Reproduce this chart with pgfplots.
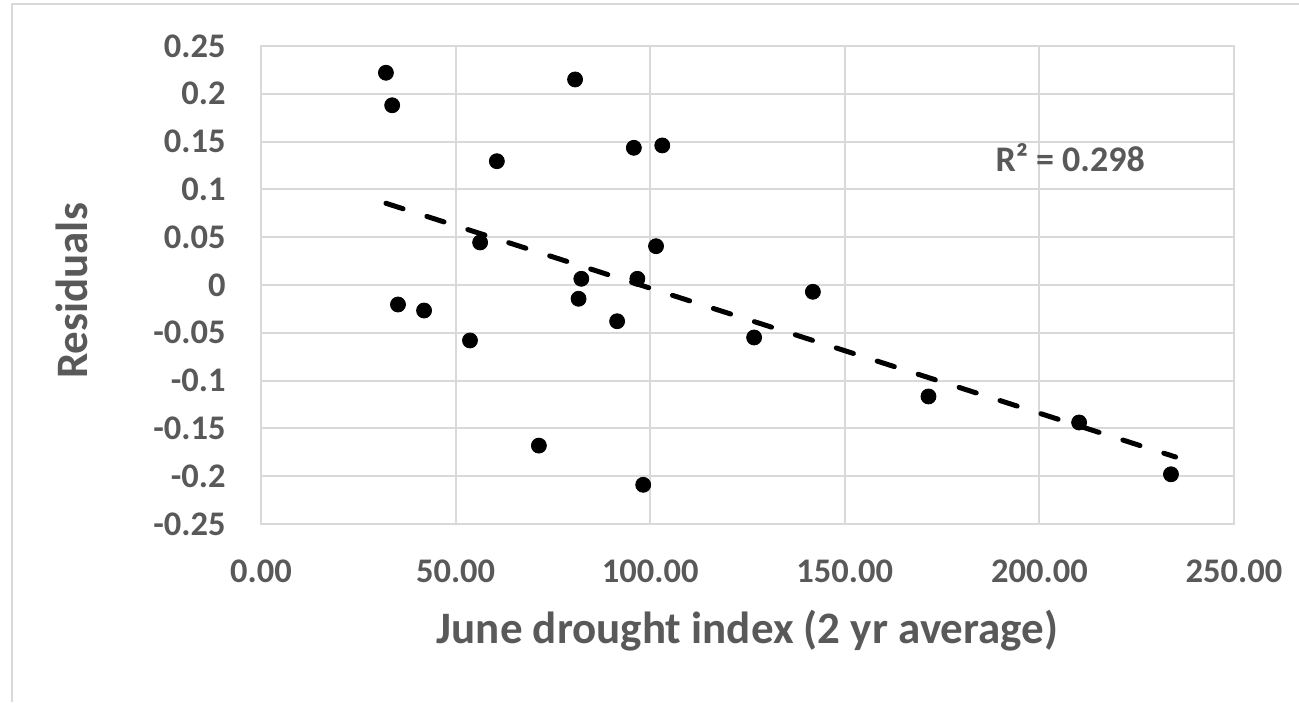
\documentclass[border=0pt]{standalone}
\usepackage{fontspec}
\setmainfont{Carlito}
\usepackage{pgfplots}
\pgfplotsset{compat=1.18}
\definecolor{gridgray}{HTML}{D9D9D9}
\definecolor{txtgray}{HTML}{595959}
\begin{document}
\begin{tikzpicture}
\useasboundingbox (-130.5pt,-89pt) rectangle (519pt,262pt);
\draw[gridgray, line width=1pt] (-124.5pt,-89pt) -- (-124.5pt,260pt) -- (519pt,260pt);
\begin{axis}[
  at={(0pt,0pt)}, anchor=south west,
  scale only axis, width=486.5pt, height=239pt,
  xmin=0, xmax=250, ymin=-0.25, ymax=0.25,
  xtick={0,50,100,150,200,250},
  xticklabels={0.00,50.00,100.00,150.00,200.00,250.00},
  ytick={-0.25,-0.2,-0.15,-0.1,-0.05,0,0.05,0.1,0.15,0.2,0.25},
  yticklabels={-0.25,-0.2,-0.15,-0.1,-0.05,0,0.05,0.1,0.15,0.2,0.25},
  grid=major, grid style={gridgray, line width=1pt},
  axis line style={gridgray, line width=1pt},
  major tick length=0pt,
  tick label style={font=\fontsize{17.25}{21}\selectfont\bfseries, text=txtgray, inner sep=0pt},
  xticklabel style={anchor=base, yshift=-29pt},
  yticklabel style={anchor=east, xshift=-17.5pt},
  xlabel={June drought index (2 yr average)},
  xlabel style={font=\fontsize{22.5}{27}\selectfont\bfseries, text=txtgray,
    at={(axis description cs:0.5,-0.249)}, anchor=base, inner sep=0pt},
  ylabel={Residuals},
  ylabel style={font=\fontsize{22.5}{27}\selectfont\bfseries, text=txtgray,
    at={(axis description cs:-0.1788,0.4874)}, anchor=base, rotate=0, inner sep=0pt},
]
\addplot[only marks, mark=*, mark size=3.75pt, black] coordinates {
  (32.1,0.222) (33.7,0.188) (35.2,-0.0204) (41.9,-0.0267) (53.7,-0.058)
  (56.3,0.0445) (60.6,0.1295) (71.4,-0.168) (80.7,0.215) (81.6,-0.0144)
  (82.3,0.0065) (91.5,-0.0379) (95.8,0.1435) (96.7,0.0065) (98.2,-0.209)
  (101.5,0.0406) (103.1,0.146) (126.7,-0.0549) (141.8,-0.0071) (171.5,-0.1166)
  (210.2,-0.1438) (233.8,-0.198)
};
\addplot[black, line width=2.5pt, line cap=round, dash pattern=on 9pt off 12.5pt] coordinates {
  (32.1,0.0855) (235,-0.1799)
};
\node[font=\fontsize{18}{22}\selectfont\bfseries, text=txtgray] at (axis cs:207.9,0.1334) {R² = 0.298};
\end{axis}
\end{tikzpicture}
\end{document}
